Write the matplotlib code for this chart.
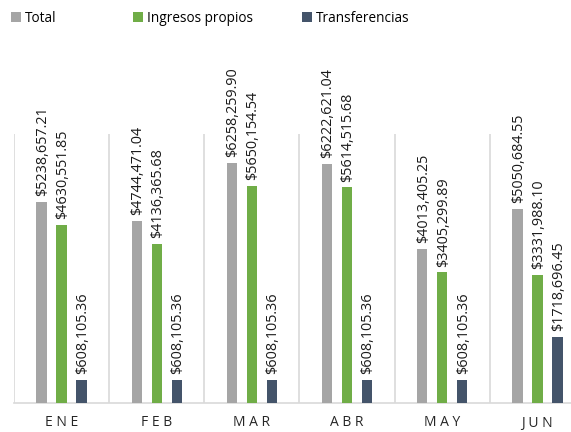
import matplotlib
matplotlib.use("Agg")
import matplotlib.pyplot as plt
import numpy as np
from matplotlib.patches import Patch

categories = ["ENE", "FEB", "MAR", "ABR", "MAY", "JUN"]
total = [5238657.21, 4744471.04, 6258259.90, 6222621.04, 4013405.25, 5050684.55]
ingresos = [4630551.85, 4136365.68, 5650154.54, 5614515.68, 3405299.89, 3331988.10]
transferencias = [608105.36, 608105.36, 608105.36, 608105.36, 608105.36, 1718696.45]
series_names = ["Total", "Ingresos propios", "Transferencias"]
colors = ["#A5A5A5", "#70AD47", "#44546A"]

plt.rcParams['font.family'] = ['Open Sans', 'DejaVu Sans']

def fmt(v):
    s = f"{v:.2f}"
    ip, dp = s.split('.')
    return "$" + ip[:-3] + "," + ip[-3:] + "." + dp

fig = plt.figure(figsize=(5.71, 4.32), dpi=100)
ax = fig.add_axes([14/571, 1 - 403/432, 571/571, (403 - 134)/432])

x = np.arange(len(categories))
offsets = [-0.21, 0.0, 0.21]
width = 0.11
for data, off, col in zip([total, ingresos, transferencias], offsets, colors):
    bars = ax.bar(x + off, data, width=width, color=col, zorder=3)
    for b, v in zip(bars, data):
        ax.annotate(fmt(v), (b.get_x() + b.get_width() / 2 + 0.01, v),
                    xytext=(0, 4), textcoords='offset points', rotation=90,
                    ha='center', va='bottom', fontsize=10.4, color='#1a1a1a',
                    annotation_clip=False)

ax.set_xlim(-0.5, len(categories) - 0.5)
ax.set_ylim(0, 7000000)
ax.set_yticks([])
ax.set_xticks(x)
ax.set_xticklabels([" ".join(c) for c in categories], fontsize=10, color='#262626')
ax.tick_params(axis='x', length=0, pad=9)
ax.set_xticks(np.arange(-0.5, len(categories)), minor=True)
ax.tick_params(axis='x', which='minor', length=0)
ax.grid(axis='x', which='minor', color='#D9D9D9', linewidth=1.2, zorder=0)
ax.grid(axis='x', which='major', visible=False)
for s in ['top', 'right', 'left']:
    ax.spines[s].set_visible(False)
ax.spines['bottom'].set_color('#D9D9D9')
ax.spines['bottom'].set_linewidth(1.2)

legend_x = [11/571, 133/571, 302/571]
for name, col, lx in zip(series_names, colors, legend_x):
    fig.legend([Patch(facecolor=col)], [name], loc='center left',
               bbox_to_anchor=(lx, 1 - 18/432), frameon=False, fontsize=9.8,
               handlelength=0.7, handleheight=0.7, handletextpad=0.3,
               borderaxespad=0, borderpad=0)

fig.savefig("out.png", dpi=100)
